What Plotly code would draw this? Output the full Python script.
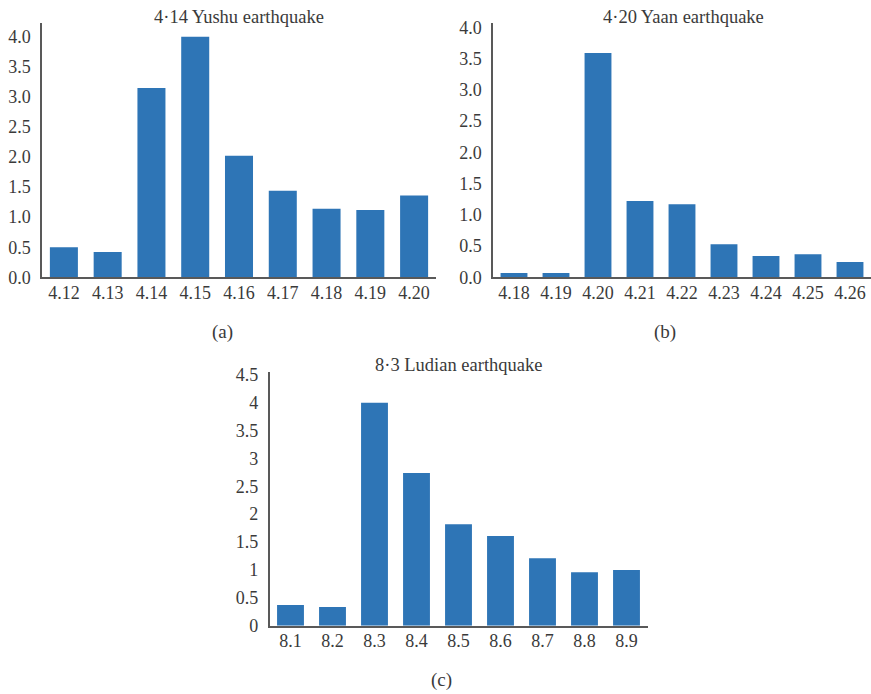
import plotly.graph_objects as go

# Data
yushu_days = ["4.12", "4.13", "4.14", "4.15", "4.16", "4.17", "4.18", "4.19", "4.20"]
yushu_vals = [0.5, 0.42, 3.15, 4.0, 2.02, 1.44, 1.14, 1.12, 1.36]

yaan_days = ["4.18", "4.19", "4.20", "4.21", "4.22", "4.23", "4.24", "4.25", "4.26"]
yaan_vals = [0.07, 0.07, 3.59, 1.22, 1.17, 0.53, 0.34, 0.37, 0.245]

ludian_days = ["8.1", "8.2", "8.3", "8.4", "8.5", "8.6", "8.7", "8.8", "8.9"]
ludian_vals = [0.37, 0.335, 4.0, 2.74, 1.82, 1.61, 1.21, 0.96, 1.0]

titles = ["4·14 Yushu earthquake", "4·20 Yaan earthquake", "8·3 Ludian earthquake"]
captions = ["(a)", "(b)", "(c)"]

W, H = 871, 694
BAR = "#2E75B6"
TXT = "#3a3a3a"
AX = "#595959"
FONT = "Liberation Serif"
TICK_SIZE = 18
TITLE_SIZE = 18.5

fig = go.Figure()

def px_x(x):
    return x / W

def px_y(y):
    return 1 - y / H

panels = [
    dict(x=yushu_days, y=yushu_vals, dom_x=(42, 436), dom_y=(277.3, 23), ymax=4.23,
         tickvals=[0, 0.5, 1, 1.5, 2, 2.5, 3, 3.5, 4], ticktext=["0.0", "0.5", "1.0", "1.5", "2.0", "2.5", "3.0", "3.5", "4.0"]),
    dict(x=yaan_days, y=yaan_vals, dom_x=(493, 871), dom_y=(277.3, 23), ymax=4.07,
         tickvals=[0, 0.5, 1, 1.5, 2, 2.5, 3, 3.5, 4], ticktext=["0.0", "0.5", "1.0", "1.5", "2.0", "2.5", "3.0", "3.5", "4.0"]),
    dict(x=ludian_days, y=ludian_vals, dom_x=(269.5, 647.5), dom_y=(625.7, 372), ymax=4.55,
         tickvals=[0, 0.5, 1, 1.5, 2, 2.5, 3, 3.5, 4, 4.5], ticktext=["0", "0.5", "1", "1.5", "2", "2.5", "3", "3.5", "4", "4.5"]),
]

layout = dict(
    template="none",
    width=W, height=H, margin=dict(l=0, r=0, t=0, b=0, pad=0),
    paper_bgcolor="white", plot_bgcolor="white", showlegend=False,
    bargap=0.36, font=dict(family=FONT, color=TXT, size=TICK_SIZE),
)

for i, p in enumerate(panels):
    n = "" if i == 0 else str(i + 1)
    xa, ya = "x" + n, "y" + n
    fig.add_trace(go.Bar(x=p["x"], y=p["y"], marker=dict(color=BAR, line=dict(width=0)),
                         xaxis=xa, yaxis=ya, hoverinfo="x+y"))
    layout["xaxis" + n] = dict(
        domain=[px_x(p["dom_x"][0]), min(px_x(p["dom_x"][1]), 1.0)],
        anchor=ya, showline=True, linecolor=AX, linewidth=1.5, ticks="",
        showgrid=False, zeroline=False, range=[-0.5, 8.5], type="category",
        automargin=False, ticklabelstandoff=-2,
        tickfont=dict(family=FONT, size=TICK_SIZE, color=TXT), fixedrange=True,
    )
    layout["yaxis" + n] = dict(
        domain=[px_y(p["dom_y"][0]), px_y(p["dom_y"][1])],
        anchor=xa, showline=True, linecolor=AX, linewidth=1.5, ticks="",
        showgrid=False, zeroline=False, range=[0, p["ymax"]], automargin=False,
        tickvals=p["tickvals"], ticktext=p["ticktext"], ticklabelstandoff=6,
        tickfont=dict(family=FONT, size=TICK_SIZE, color=TXT), fixedrange=True,
    )

fig.update_layout(**layout)

title_pos = [(239, 17), (683, 17), (458, 365)]
cap_pos = [(222, 332), (665, 332), (441, 680)]
for t, (tx, ty) in zip(titles, title_pos):
    fig.add_annotation(text=t, x=px_x(tx), y=px_y(ty), xref="paper", yref="paper",
                       showarrow=False, xanchor="center", yanchor="middle",
                       font=dict(family=FONT, size=TITLE_SIZE, color=TXT))
for c, (cx, cy) in zip(captions, cap_pos):
    fig.add_annotation(text=c, x=px_x(cx), y=px_y(cy), xref="paper", yref="paper",
                       showarrow=False, xanchor="center", yanchor="middle",
                       font=dict(family=FONT, size=19, color=TXT))

fig.write_html(
    "out.html",
    config={"displayModeBar": False},
    post_script="document.body.style.margin='0';document.body.style.overflow='hidden';",
)
